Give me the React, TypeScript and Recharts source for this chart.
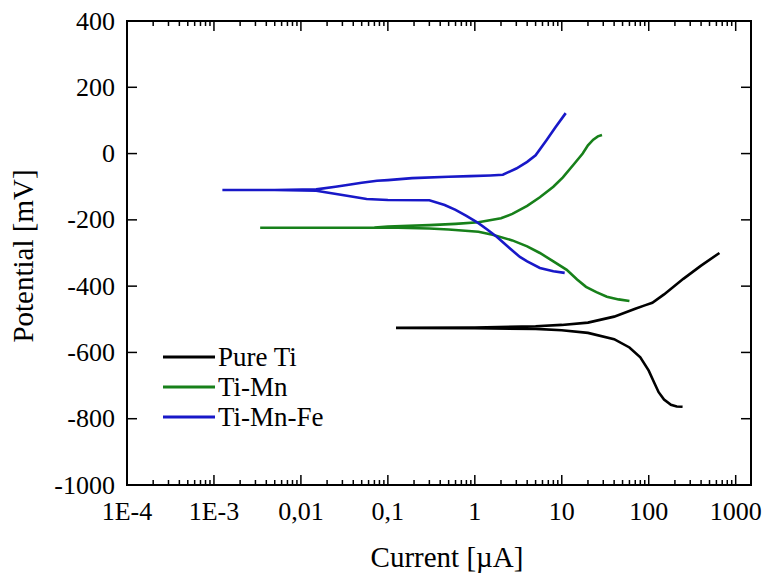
import React from 'react'
import { LineChart, Line, XAxis, YAxis, ReferenceArea } from 'recharts'

// tick values / labels
const xMajorTicks = [1e-4, 1e-3, 0.01, 0.1, 1, 10, 100, 1000]
const xTickLabels = ['1E-4', '1E-3', '0,01', '0,1', '1', '10', '100', '1000']
const yTicks = [-1000, -800, -600, -400, -200, 0, 200, 400]

// Pure Ti: cathodic branch (from its end back to Ecorr), then anodic branch
const pureTiCurrent = [245, 210, 180, 150, 130, 115, 100, 80, 60, 40, 20, 10, 5, 1, 0.124,
  1, 5, 10, 20, 40, 70, 90, 110, 150, 250, 400, 650]
const pureTiPotential = [-764, -763, -758, -742, -720, -690, -655, -615, -585, -560, -541, -533, -529, -527, -526,
  -525, -521, -517, -510, -492, -468, -458, -450, -425, -378, -338, -300]

const tiMnCurrent = [60, 45, 33, 25, 19, 15, 11.4, 8, 5.6, 4, 2.7, 1.6, 1.1, 0.5, 0.3, 0.1, 0.0034,
  0.07, 0.1, 0.3, 0.6, 1.1, 2, 2.7, 4, 5.6, 8, 10.3, 14, 17.4, 20, 23, 26, 29]
const tiMnPotential = [-445, -440, -432, -418, -402, -380, -351, -325, -300, -280, -262, -245, -236, -229, -226, -223, -224,
  -223, -220, -216, -212, -207, -195, -182, -158, -132, -100, -72, -30, 0, 25, 42, 52, 56]

const tiMnFeCurrent = [10.8, 8, 5.6, 4, 3.3, 2.5, 1.8, 1.4, 1.1, 0.8, 0.6, 0.45, 0.3, 0.1, 0.057, 0.03, 0.015, 0.005, 0.00125,
  0.005, 0.015, 0.025, 0.034, 0.05, 0.075, 0.1, 0.19, 0.5, 0.88, 1.5, 2.1, 3, 4, 5, 6.7, 8.5, 11.1]
const tiMnFePotential = [-360, -355, -345, -325, -312, -285, -252, -230, -210, -188, -170, -155, -141, -140, -137, -125, -112, -110, -110,
  -110, -108, -100, -95, -88, -82, -80, -74, -70, -68, -66, -64, -45, -25, -5, 41, 80, 122]

const zip = (xs: number[], ys: number[]) => xs.map((x, i) => ({ x, y: ys[i] }))

const series = [
  { name: 'Pure Ti', color: '#000000', data: zip(pureTiCurrent, pureTiPotential) },
  { name: 'Ti-Mn', color: '#17801a', data: zip(tiMnCurrent, tiMnPotential) },
  { name: 'Ti-Mn-Fe', color: '#1818c8', data: zip(tiMnFeCurrent, tiMnFePotential) },
]

const FONT = '"Liberation Serif", "Times New Roman", serif'
const X_DOMAIN = [1e-4, 1500]
const Y_DOMAIN = [-1000, 400]

// plot frame in pixels (from chart size and margins below)
const W = 765
const H = 576
const LEFT = 127
const RIGHT = 751
const TOP = 21
const BOTTOM = 485
const TICK_FONT = 26
const TITLE_FONT = 29

// minor ticks 2..9 in every decade
const xAllTicks = [
  ...xMajorTicks,
  ...xMajorTicks.slice(0, -1).flatMap(m => [2, 3, 4, 5, 6, 7, 8, 9].map(k => m * k)),
].sort((a, b) => a - b)

const majorIndex = (v: number) => {
  const l = Math.log10(v)
  if (Math.abs(l - Math.round(l)) > 1e-6) return -1
  return xMajorTicks.findIndex(m => Math.abs(Math.log10(m) - l) < 1e-6)
}

// draws bottom and top tick marks (inward) plus the label under the bottom axis
const XTick = (props: any) => {
  const { x, payload } = props
  const idx = majorIndex(payload.value)
  const len = idx >= 0 ? 10 : 5
  return (
    <g>
      <line x1={x} x2={x} y1={BOTTOM} y2={BOTTOM - len} stroke="#000" strokeWidth={1.5} />
      <line x1={x} x2={x} y1={TOP} y2={TOP + len} stroke="#000" strokeWidth={1.5} />
      {idx >= 0 && (
        <text x={x} y={BOTTOM + 35} textAnchor="middle" fontSize={TICK_FONT} fontFamily={FONT} fill="#000">
          {xTickLabels[idx]}
        </text>
      )}
    </g>
  )
}

// left and right tick marks (inward) plus the label left of the axis
const YTick = (props: any) => {
  const { y, payload } = props
  return (
    <g>
      <line x1={LEFT} x2={LEFT + 10} y1={y} y2={y} stroke="#000" strokeWidth={1.5} />
      <line x1={RIGHT} x2={RIGHT - 10} y1={y} y2={y} stroke="#000" strokeWidth={1.5} />
      <text x={LEFT - 12} y={y} dy="0.33em" textAnchor="end" fontSize={TICK_FONT} fontFamily={FONT} fill="#000">
        {payload.value}
      </text>
    </g>
  )
}

export default function App() {
  return (
    <div style={{ position: 'absolute', left: 0, top: 0, width: W, height: H, background: '#fff' }}>
      <LineChart
        width={W}
        height={H}
        margin={{ top: TOP, right: W - RIGHT, bottom: 0, left: 0 }}
      >
        <XAxis
          dataKey="x"
          type="number"
          scale="log"
          domain={X_DOMAIN}
          allowDataOverflow
          ticks={xAllTicks}
          interval={0}
          height={H - BOTTOM}
          tickLine={false}
          tick={<XTick />}
          axisLine={false}
          label={{
            content: () => (
              <text x={447} y={567} textAnchor="middle" fontSize={TITLE_FONT} fontFamily={FONT} fill="#000">
                Current [µA]
              </text>
            ),
          }}
        />
        <YAxis
          type="number"
          domain={Y_DOMAIN}
          ticks={yTicks}
          interval={0}
          width={LEFT}
          tickLine={false}
          tick={<YTick />}
          axisLine={false}
          label={{
            content: () => (
              <text
                transform="translate(33,256) rotate(-90)"
                textAnchor="middle"
                fontSize={TITLE_FONT}
                fontFamily={FONT}
                fill="#000"
              >
                Potential [mV]
              </text>
            ),
          }}
        />
        <ReferenceArea
          x1={X_DOMAIN[0]}
          x2={X_DOMAIN[1]}
          y1={Y_DOMAIN[0]}
          y2={Y_DOMAIN[1]}
          fill="none"
          stroke="#000"
          strokeWidth={2}
          ifOverflow="visible"
        />
        {series.map(s => (
          <Line
            key={s.name}
            name={s.name}
            data={s.data}
            dataKey="y"
            type="linear"
            stroke={s.color}
            strokeWidth={2.6}
            dot={false}
            isAnimationActive={false}
          />
        ))}
      </LineChart>
      <div
        style={{
          position: 'absolute',
          left: 163,
          top: 342,
          fontFamily: FONT,
          fontSize: 27,
          color: '#000',
        }}
      >
        {series.map(s => (
          <div key={s.name} style={{ display: 'flex', alignItems: 'center', height: 30 }}>
            <svg width={55} height={30} style={{ display: 'block' }}>
              <line x1={0} x2={52} y1={15} y2={15} stroke={s.color} strokeWidth={3} />
            </svg>
            <span style={{ lineHeight: '30px' }}>{s.name}</span>
          </div>
        ))}
      </div>
    </div>
  )
}
